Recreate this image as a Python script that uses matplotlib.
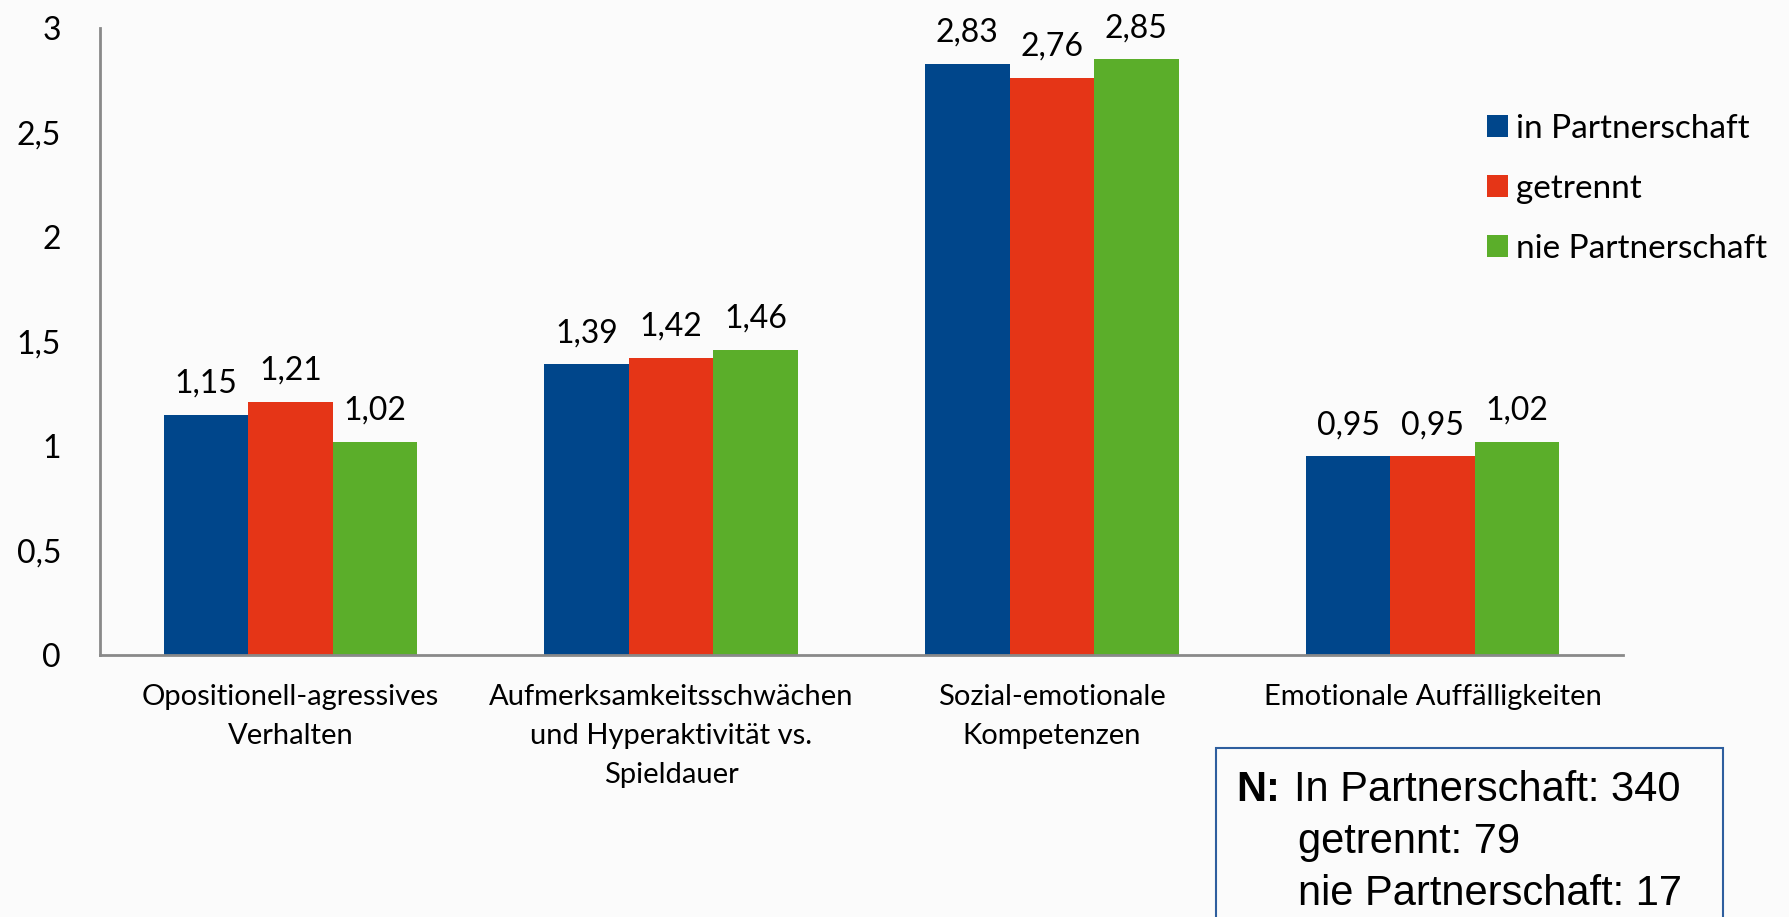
import matplotlib
matplotlib.use("Agg")
import matplotlib.pyplot as plt
import numpy as np
from matplotlib.patches import Rectangle

categories = ["Opositionell-agressives\nVerhalten",
              "Aufmerksamkeitsschwächen\nund Hyperaktivität vs.\nSpieldauer",
              "Sozial-emotionale\nKompetenzen",
              "Emotionale Auffälligkeiten"]
series_names = ["in Partnerschaft", "getrennt", "nie Partnerschaft"]
in_partnerschaft = [1.15, 1.39, 2.83, 0.95]
getrennt = [1.21, 1.42, 2.76, 0.95]
nie_partnerschaft = [1.02, 1.46, 2.85, 1.02]
y_ticks = [0, 0.5, 1, 1.5, 2, 2.5, 3]
n_counts = [340, 79, 17]

colors = ["#00468B", "#E53517", "#5BAE2A"]
bg = "#FBFBFB"
font = "Lato"

fig = plt.figure(figsize=(17.89, 9.17), dpi=100, facecolor=bg)
ax = fig.add_axes([100 / 1789, 1 - 655 / 917, 1523 / 1789, 627 / 917])
ax.set_facecolor(bg)

x = np.arange(len(categories))
w = 0.222
bars = []
for i, vals in enumerate([in_partnerschaft, getrennt, nie_partnerschaft]):
    b = ax.bar(x + (i - 1) * w, vals, w, color=colors[i], label=series_names[i], zorder=2)
    bars.append(b)
    for xi, v in zip(x + (i - 1) * w, vals):
        ax.annotate(f"{v:.2f}".replace(".", ","), (xi, v), xytext=(0, 16),
                    textcoords="offset points", ha="center", va="baseline",
                    fontsize=23, family=font, color="black")

ax.set_xlim(-0.5, 3.5)
ax.set_ylim(0, 3)
ax.set_yticks(y_ticks)
ax.set_yticklabels([f"{t:g}".replace(".", ",") for t in y_ticks], fontsize=23, family=font)
ax.set_xticks(x)
ax.set_xticklabels(categories, fontsize=21, family=font, va="top")
ax.tick_params(axis="both", length=0)
ax.tick_params(axis="y", pad=28)
ax.tick_params(axis="x", pad=21)
for lab in ax.get_xticklabels():
    lab.set_linespacing(1.62)
for s in ["top", "right"]:
    ax.spines[s].set_visible(False)
for s in ["left", "bottom"]:
    ax.spines[s].set_color("#898989")
    ax.spines[s].set_linewidth(2)

leg = fig.legend(handles=bars, labels=series_names, loc="upper left",
                 bbox_to_anchor=(1457 / 1789, 1 - 84 / 917), frameon=False,
                 prop={"family": font, "size": 24}, handlelength=0.63, handleheight=0.63,
                 handletextpad=0.25, labelspacing=0.9)

# N box
fig.patches.append(Rectangle((1216 / 1789, -0.05), 507 / 1789, 0.05 + (917 - 748) / 917,
                             transform=fig.transFigure, facecolor="none",
                             edgecolor="#2E5E9E", linewidth=1.5))
fig.text(1236 / 1789, 1 - 801 / 917, "N:", fontsize=30, family="Liberation Sans",
         fontweight="bold", va="baseline")
lines = [f"In Partnerschaft: {n_counts[0]}", f"getrennt: {n_counts[1]}",
         f"nie Partnerschaft: {n_counts[2]}"]
for k, t in enumerate(lines):
    fig.text((1294 if k == 0 else 1298) / 1789, 1 - (801 + 52 * k) / 917, t,
             fontsize=30, family="Liberation Sans", va="baseline")

fig.savefig("out.png", dpi=100, facecolor=bg)
